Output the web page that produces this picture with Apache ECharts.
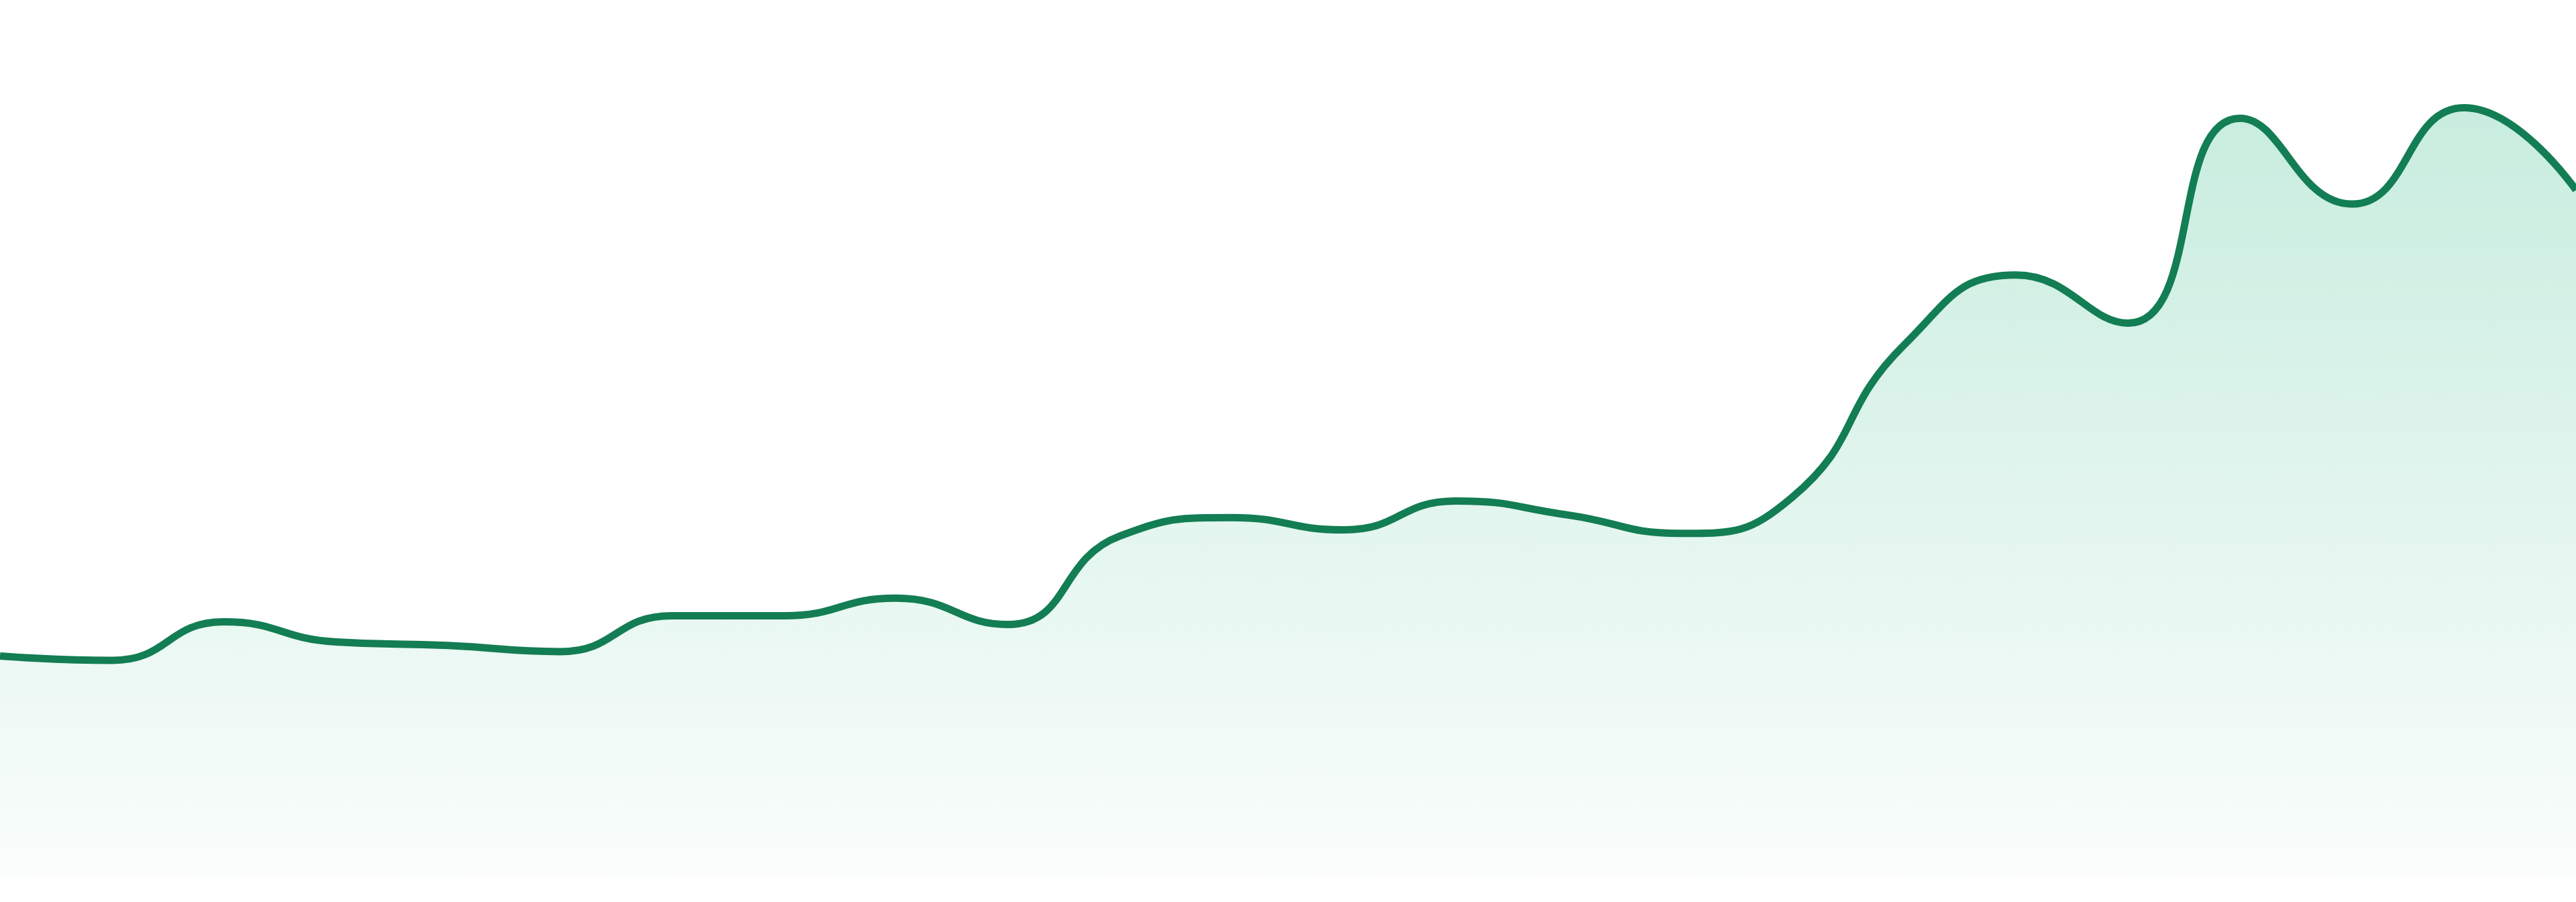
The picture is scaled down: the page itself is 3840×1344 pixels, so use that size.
<!DOCTYPE html>
<html>
<head>
<meta charset="utf-8">
<script src="https://cdn.jsdelivr.net/npm/echarts@6/dist/echarts.min.js"></script>
<style>
  html, body { margin: 0; padding: 0; background: #ffffff; }
  #chart { width: 3840px; height: 1344px; }
</style>
</head>
<body>
<div id="chart"></div>
<script>
const categories = ['P1','P2','P3','P4','P5','P6','P7','P8','P9','P10','P11','P12',
                    'P13','P14','P15','P16','P17','P18','P19','P20','P21','P22','P23','P24'];
const values = [25.1, 24.6, 29.0, 26.7, 26.3, 25.6, 29.7, 29.7, 31.7, 28.7, 38.8, 40.9,
                39.5, 42.8, 41.2, 39.1, 43.2, 60.6, 68.6, 63.1, 86.5, 76.7, 87.7, 78.3];
const yMin = 0;
const yMax = 100;

const chart = echarts.init(document.getElementById('chart'), null, { renderer: 'canvas' });
chart.setOption({
  animation: false,
  backgroundColor: '#ffffff',
  grid: { left: 0, right: 0, top: 0, bottom: 39, containLabel: false },
  xAxis: {
    type: 'category',
    data: categories,
    boundaryGap: false,
    show: false
  },
  yAxis: {
    type: 'value',
    min: yMin,
    max: yMax,
    show: false,
    splitLine: { show: false }
  },
  series: [{
    type: 'line',
    data: values,
    smooth: true,
    symbol: 'none',
    lineStyle: { color: '#137d53', width: 11 },
    areaStyle: {
      color: new echarts.graphic.LinearGradient(0, 0, 0, 1, [
        { offset: 0, color: 'rgba(24,178,120,0.34)' },
        { offset: 1, color: 'rgba(24,178,120,0.03)' }
      ])
    }
  }]
});
</script>
</body>
</html>
